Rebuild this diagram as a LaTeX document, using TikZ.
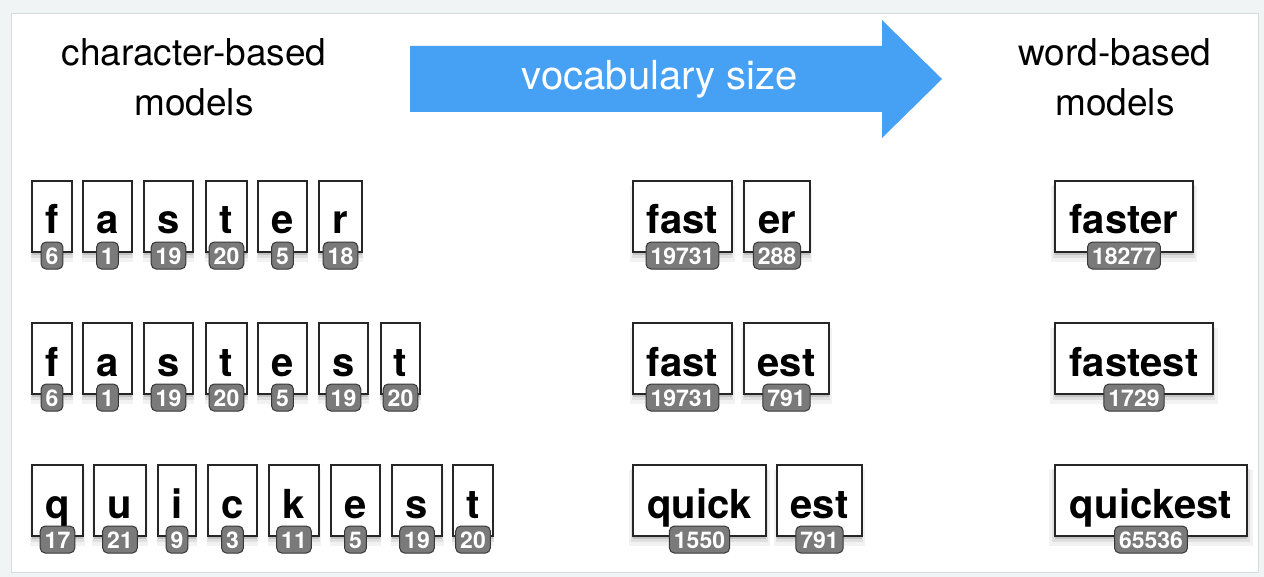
\documentclass[tikz,border=0pt]{standalone}
\usepackage{fontspec}
\setmainfont{TeX Gyre Heros}
\usetikzlibrary{shadows}
\definecolor{arrowblue}{RGB}{70,161,245}
\definecolor{badgegray}{RGB}{122,122,122}
\definecolor{badgeline}{RGB}{55,55,55}
\definecolor{pagegray}{RGB}{241,244,244}
\definecolor{panelline}{RGB}{215,220,220}
\tikzset{
  tok/.style={draw=black!85, line width=1.1pt, fill=white, minimum height=71pt,
    inner sep=0pt, font=\fontsize{40}{40}\selectfont\bfseries, text height=35pt, text depth=0pt,
    drop shadow={shadow xshift=0pt, shadow yshift=-7pt, opacity=0.05, fill=black, shadow scale=1.06},
    drop shadow={shadow xshift=0pt, shadow yshift=-5pt, opacity=0.08, fill=black, shadow scale=1.03},
    drop shadow={shadow xshift=0pt, shadow yshift=-3pt, opacity=0.12, fill=black}},
  badge/.style={draw=badgeline, fill=badgegray, rounded corners=5pt, line width=1pt,
    text=white, font=\fontsize{23}{23}\selectfont\bfseries, inner xsep=4.5pt, inner ysep=0pt,
    minimum height=27pt, text height=17pt, text depth=0pt},
  hdr/.style={font=\fontsize{37}{37}\selectfont, anchor=base, inner sep=0pt},
}
\newcommand\mkbox[6]{%
  \node[tok, minimum width={(#3-#2)*1pt}] (#1) at ({(#2+#3)/2}, {#4+35.5}) {#5};
  \node[badge] (#1n) at ([yshift=-3pt]#1.south) {#6};
}
\begin{document}
\begin{tikzpicture}[x=1pt, y=-1pt]
\useasboundingbox (0,0) rectangle (1264,577);
\fill[pagegray] (0,0) rectangle (1264,577);
\draw[panelline, fill=white, line width=1pt] (11,14) rectangle (1258,572);

% headers
\node[hdr] (charA) at (194,66) {character-based};
\node[hdr] (charB) at (194,116) {models};
\node[hdr] (wordA) at (1115,66) {word-based};
\node[hdr] (wordB) at (1115,116) {models};

% arrow
\fill[arrowblue] (410,46) -- (882,46) -- (882,20) -- (942,79) -- (882,138) -- (882,112) -- (410,112) -- cycle;
\node[font=\fontsize{40}{40}\selectfont, text=white, inner sep=0pt] (vocab) at (660,79) {vocabulary size};

% row 1 characters
\mkbox{a1}{32}{72}{181}{f}{6}
\mkbox{a2}{83}{132}{181}{a}{1}
\mkbox{a3}{144}{193}{181}{s}{19}
\mkbox{a4}{206}{247}{181}{t}{20}
\mkbox{a5}{258}{307}{181}{e}{5}
\mkbox{a6}{319}{362}{181}{r}{18}
% row 2 characters
\mkbox{b1}{32}{72}{323}{f}{6}
\mkbox{b2}{83}{132}{323}{a}{1}
\mkbox{b3}{144}{193}{323}{s}{19}
\mkbox{b4}{206}{247}{323}{t}{20}
\mkbox{b5}{258}{307}{323}{e}{5}
\mkbox{b6}{319}{368}{323}{s}{19}
\mkbox{b7}{381}{420}{323}{t}{20}
% row 3 characters
\mkbox{c1}{32}{83}{465}{q}{17}
\mkbox{c2}{94}{146}{465}{u}{21}
\mkbox{c3}{158}{196}{465}{i}{9}
\mkbox{c4}{208}{257}{465}{c}{3}
\mkbox{c5}{269}{319}{465}{k}{11}
\mkbox{c6}{331}{380}{465}{e}{5}
\mkbox{c7}{392}{442}{465}{s}{19}
\mkbox{c8}{453}{493}{465}{t}{20}

% subwords
\mkbox{d1}{633}{732}{181}{fast}{19731}
\mkbox{d2}{744}{810}{181}{er}{288}
\mkbox{e1}{633}{732}{323}{fast}{19731}
\mkbox{e2}{744}{829}{323}{est}{791}
\mkbox{f1}{633}{766}{465}{quick}{1550}
\mkbox{f2}{777}{862}{465}{est}{791}

% words
\mkbox{g1}{1055}{1193}{181}{faster}{18277}
\mkbox{g2}{1055}{1213}{323}{fastest}{1729}
\mkbox{g3}{1055}{1247}{465}{quickest}{65536}
\end{tikzpicture}
\end{document}
